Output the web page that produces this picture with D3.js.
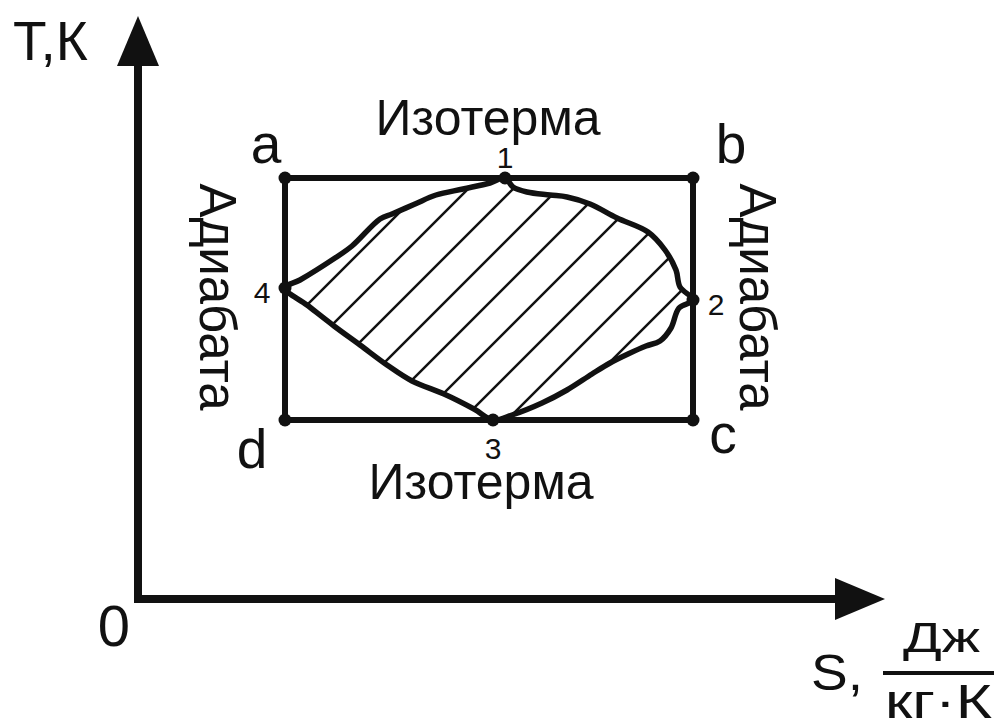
<!DOCTYPE html>
<html>
<head>
<meta charset="utf-8">
<script src="https://cdn.jsdelivr.net/npm/d3@7"></script>
<style>
  body { margin: 0; background: #fff; }
  svg { display: block; }
  text { font-family: "Liberation Sans", Arial, sans-serif; fill: #111; }
</style>
</head>
<body>
<svg width="995" height="725"></svg>
<script>
// Carnot rectangle, S and T in chart units
const sRange = [14.7, 55.5];
const tRange = [17.9, 42.1];

const corners = ["a", "b", "c", "d"];
const cornerS = [14.7, 55.5, 55.5, 14.7];
const cornerT = [42.1, 42.1, 17.9, 17.9];

const points = ["1", "2", "3", "4"];
const pointS = [36.7, 55.5, 35.5, 14.7];
const pointT = [42.1, 29.9, 17.9, 31.1];

// arbitrary cycle 1 -> 2 -> 3 -> 4 -> back to 1
const cycleS = [36.7, 37.5, 38.9, 41.2, 42.9, 45.2, 47.9, 51.0, 52.7, 53.8, 54.2, 55.5,
                54.1, 53.3, 52.2, 50.8, 49.0, 47.2, 45.4, 42.9, 40.4, 37.4, 35.5,
                33.6, 30.6, 27.4, 24.9, 22.2, 19.6, 16.9, 14.7,
                16.2, 19.7, 21.4, 24.2, 25.4, 27.7, 29.8, 32.5, 35.2];
const cycleT = [42.1, 41.2, 40.7, 40.4, 40.2, 39.5, 38.1, 36.7, 34.9, 32.9, 31.2, 29.9,
                29.1, 27.1, 25.8, 25.3, 24.5, 23.6, 22.5, 20.9, 19.6, 18.4, 17.9,
                19.0, 20.5, 21.8, 23.4, 25.4, 27.3, 29.4, 31.1,
                31.9, 34.1, 35.3, 38.0, 38.5, 39.5, 40.4, 41.0, 41.6];

// hatch lines inside the cycle, value of S - T along each line
const hatchOffsets = [-12.5, -8, -3.5, 1, 5.5, 10, 14.5, 19, 23.5];

const svg = d3.select("svg");

const x = d3.scaleLinear().domain([0, 74.7]).range([138, 885]);
const y = d3.scaleLinear().domain([0, 58.3]).range([599, 16]);

const ink = "#111";

// axes with arrows
svg.append("line")
    .attr("x1", x(0)).attr("x2", x(0))
    .attr("y1", y(0) + 4).attr("y2", y(53.3))
    .attr("stroke", ink).attr("stroke-width", 8);
svg.append("path")
    .attr("d", `M${x(0)},${y(58.3)} L${x(0) - 21},${y(53.3)} L${x(0) + 21},${y(53.3)} Z`)
    .attr("fill", ink);

svg.append("line")
    .attr("x1", x(0) - 4).attr("x2", x(70))
    .attr("y1", y(0)).attr("y2", y(0))
    .attr("stroke", ink).attr("stroke-width", 8);
svg.append("path")
    .attr("d", `M${x(74.7)},${y(0)} L${x(69.7)},${y(0) - 21} L${x(69.7)},${y(0) + 21} Z`)
    .attr("fill", ink);

// cycle outline
const cycle = cycleS.map((s, i) => [s, cycleT[i]]);
const cycleLine = d3.line()
    .x(d => x(d[0]))
    .y(d => y(d[1]))
    .curve(d3.curveCatmullRomClosed.alpha(0.5));

svg.append("clipPath").attr("id", "cycleClip")
  .append("path").attr("d", cycleLine(cycle));

svg.append("g")
    .attr("clip-path", "url(#cycleClip)")
  .selectAll("line")
  .data(hatchOffsets)
  .join("line")
    .attr("x1", c => x(5)).attr("y1", c => y(5 - c))
    .attr("x2", c => x(65)).attr("y2", c => y(65 - c))
    .attr("stroke", ink).attr("stroke-width", 2.5);

svg.append("path")
    .attr("d", cycleLine(cycle))
    .attr("fill", "none")
    .attr("stroke", ink)
    .attr("stroke-width", 5.5)
    .attr("stroke-linejoin", "round");

// rectangle a-b-c-d
svg.append("path")
    .attr("d", d3.line().x(d => x(d[0])).y(d => y(d[1])).curve(d3.curveLinearClosed)(
        cornerS.map((s, i) => [s, cornerT[i]])))
    .attr("fill", "none")
    .attr("stroke", ink)
    .attr("stroke-width", 6);

// dots
const dots = cornerS.map((s, i) => [s, cornerT[i]])
    .concat(pointS.map((s, i) => [s, pointT[i]]));
svg.selectAll("circle.dot")
  .data(dots)
  .join("circle")
    .attr("class", "dot")
    .attr("cx", d => x(d[0]))
    .attr("cy", d => y(d[1]))
    .attr("r", 6.5)
    .attr("fill", ink);

// corner letters
const cornerOffset = {a: [-19, -15], b: [38, -15], c: [30, 33], d: [-33, 48]};
svg.selectAll("text.corner")
  .data(corners)
  .join("text")
    .attr("class", "corner")
    .attr("x", (d, i) => x(cornerS[i]) + cornerOffset[d][0])
    .attr("y", (d, i) => y(cornerT[i]) + cornerOffset[d][1])
    .attr("text-anchor", "middle")
    .attr("font-size", 55)
    .text(d => d);

// state numbers
const pointOffset = {"1": [0, -10], "2": [23, 15], "3": [0, 39], "4": [-23, 15]};
svg.selectAll("text.num")
  .data(points)
  .join("text")
    .attr("class", "num")
    .attr("x", (d, i) => x(pointS[i]) + pointOffset[d][0])
    .attr("y", (d, i) => y(pointT[i]) + pointOffset[d][1])
    .attr("text-anchor", "middle")
    .attr("font-size", 30)
    .text(d => d);

// process names
svg.append("text")
    .attr("x", x(35)).attr("y", y(tRange[1]) - 43)
    .attr("text-anchor", "middle").attr("font-size", 50)
    .text("Изотерма");
svg.append("text")
    .attr("x", x(34.3)).attr("y", y(tRange[0]) + 79)
    .attr("text-anchor", "middle").attr("font-size", 50)
    .text("Изотерма");

const midT = y((tRange[0] + tRange[1]) / 2) - 2;
svg.append("text")
    .attr("transform", `translate(${x(sRange[0]) - 85},${midT}) rotate(90)`)
    .attr("text-anchor", "middle").attr("font-size", 51)
    .text("Адиабата");
svg.append("text")
    .attr("transform", `translate(${x(sRange[1]) + 47},${midT}) rotate(90)`)
    .attr("text-anchor", "middle").attr("font-size", 51)
    .text("Адиабата");

// axis labels
svg.append("text")
    .attr("x", 13).attr("y", 60)
    .attr("font-size", 55)
    .text("T,К");

svg.append("text")
    .attr("x", x(0) - 24).attr("y", y(0) + 47)
    .attr("text-anchor", "middle")
    .attr("font-size", 58)
    .text("0");

svg.append("text")
    .attr("x", 811).attr("y", 690)
    .attr("font-size", 50)
    .attr("textLength", 52).attr("lengthAdjust", "spacingAndGlyphs")
    .text("S,");

svg.append("text")
    .attr("x", 903).attr("y", 652)
    .attr("font-size", 42)
    .attr("textLength", 77).attr("lengthAdjust", "spacingAndGlyphs")
    .text("Дж");

svg.append("line")
    .attr("x1", 883).attr("x2", 994)
    .attr("y1", 673).attr("y2", 673)
    .attr("stroke", ink).attr("stroke-width", 4);

svg.append("text")
    .attr("x", 885).attr("y", 718)
    .attr("font-size", 48)
    .attr("textLength", 107).attr("lengthAdjust", "spacingAndGlyphs")
    .text("кг·К");
</script>
</body>
</html>
